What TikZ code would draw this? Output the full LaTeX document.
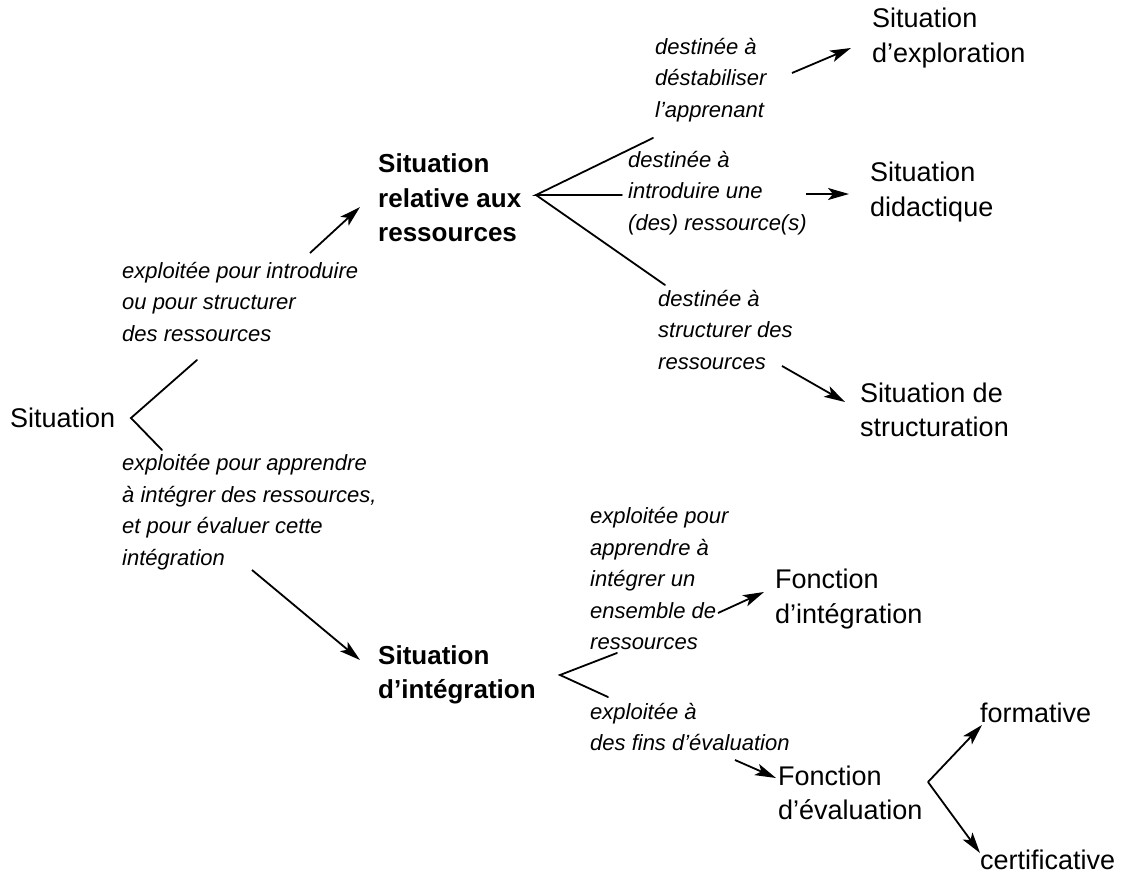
\documentclass[tikz,border=0pt]{standalone}
\usepackage{fontspec}
\setmainfont{Liberation Sans}
\usetikzlibrary{arrows.meta}
\begin{document}
\begin{tikzpicture}[x=1pt,y=-1pt,
  lab/.style={inner sep=0pt, anchor=west, align=left, font=\fontsize{27}{34.5}\selectfont},
  bl/.style={inner sep=0pt, anchor=west, align=left, font=\fontsize{26}{34.5}\selectfont\bfseries},
  it/.style={inner sep=0pt, anchor=west, align=left, font=\fontsize{22}{31.5}\selectfont\itshape},
  ln/.style={line width=1.8pt, line cap=round},
  ar/.style={line width=1.8pt, -{Stealth[length=21pt,width=12pt,inset=5pt]}}]
\useasboundingbox (0,0) rectangle (1124,880);
% nodes
\node[lab] (sit) at (10,418) {Situation};
\node[bl] (sr) at (378,198) {Situation\\relative aux\\ressources};
\node[bl] (si) at (378,675) {Situation\\d’intégration};
\node[it] (l1) at (122,302) {exploitée pour introduire\\ou pour structurer\\des ressources};
\node[it] (l2) at (122,512) {exploitée pour apprendre\\à intégrer des ressources,\\et pour évaluer cette\\intégration};
\node[it] (d1) at (655,80) {destinée à\\déstabiliser\\l’apprenant};
\node[lab] (e1) at (872,38) {Situation\\d’exploration};
\node[it] (d2) at (628,193) {destinée à\\introduire une\\(des) ressource(s)};
\node[lab] (e2) at (870,192) {Situation\\didactique};
\node[it] (d3) at (658,330) {destinée à\\structurer des\\ressources};
\node[lab] (e3) at (860,410) {Situation de\\structuration};
\node[it] (f1) at (590,579) {exploitée pour\\apprendre à\\intégrer un\\ensemble de\\ressources};
\node[lab] (fi) at (775,599) {Fonction\\d’intégration};
\node[it] (f2) at (590,727) {exploitée à\\des fins d’évaluation};
\node[lab] (fe) at (778,793) {Fonction\\d’évaluation};
\node[lab] (fo) at (980,713) {formative};
\node[lab] (ce) at (980,860) {certificative};
% fork vertices and free ends
\coordinate (v0) at (131,418);
\coordinate (v0a) at (197,360);
\coordinate (v0b) at (162,450);
\coordinate (a1s) at (310,253);
\coordinate (a1e) at (360,207);
\coordinate (a2s) at (252,570);
\coordinate (a2e) at (360,660);
\coordinate (v1) at (536,195);
\coordinate (v1a) at (653,138);
\coordinate (v1b) at (622,195);
\coordinate (v1c) at (665,285);
\coordinate (b1s) at (792,73);
\coordinate (b1e) at (851,48);
\coordinate (b2s) at (806,194);
\coordinate (b2e) at (849,194);
\coordinate (b3s) at (782,366);
\coordinate (b3e) at (845,402);
\coordinate (v2) at (560,675);
\coordinate (v2a) at (617,653);
\coordinate (v2b) at (608,697);
\coordinate (c1s) at (718,613);
\coordinate (c1e) at (764,592);
\coordinate (c2s) at (735,760);
\coordinate (c2e) at (776,778);
\coordinate (v3) at (928,782);
\coordinate (v3a) at (982,725);
\coordinate (v3b) at (980,853);
% connectors
\draw[ln] (v0a) -- (v0) -- (v0b);
\draw[ar] (a1s) -- (a1e);
\draw[ar] (a2s) -- (a2e);
\draw[ln] (v1a) -- (v1) -- (v1b);
\draw[ln] (v1) -- (v1c);
\draw[ar] (b1s) -- (b1e);
\draw[ar] (b2s) -- (b2e);
\draw[ar] (b3s) -- (b3e);
\draw[ln] (v2a) -- (v2) -- (v2b);
\draw[ar] (c1s) -- (c1e);
\draw[ar] (c2s) -- (c2e);
\draw[ar] (v3) -- (v3a);
\draw[ar] (v3) -- (v3b);
\end{tikzpicture}
\end{document}
